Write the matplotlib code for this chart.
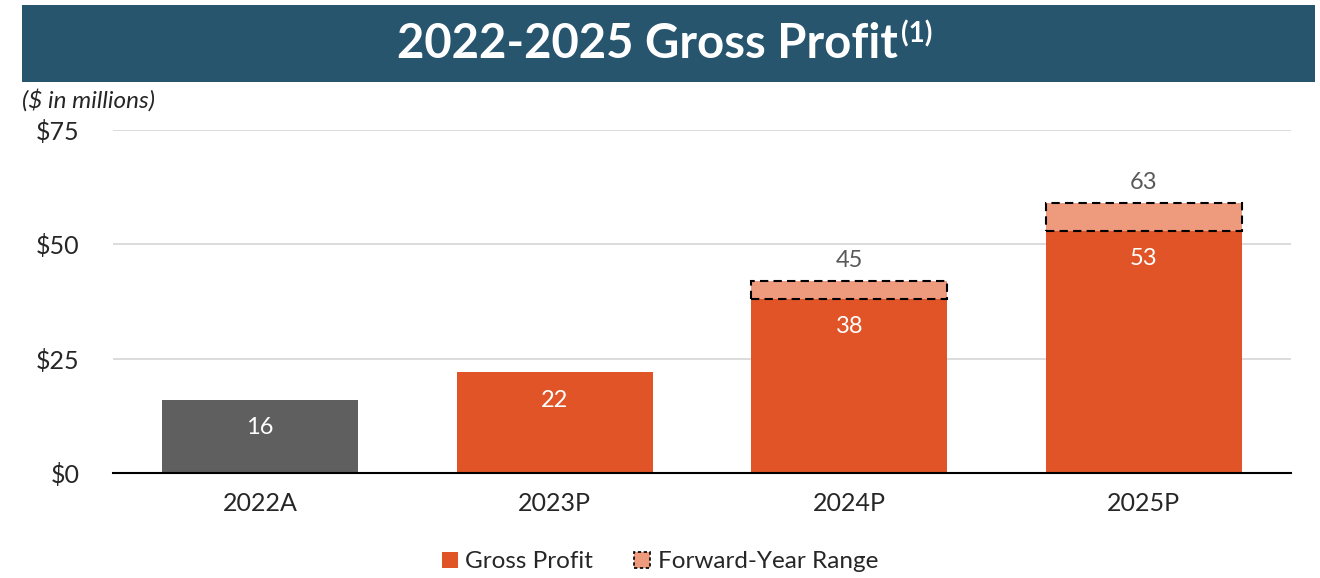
import matplotlib.pyplot as plt
from matplotlib.patches import Patch, Rectangle

# --- data ---
years = ["2022A", "2023P", "2024P", "2025P"]
gross_profit = [16, 22, 38, 53]
range_top = [None, None, 42, 59]        # drawn height of dashed range box
range_labels = [None, None, "45", "63"]  # printed value above the box
y_ticks = [0, 25, 50, 75]

GRAY = "#5F5F5F"
ORANGE = "#E05427"
LIGHT = "#EE9A7D"
HEADER = "#28556E"
TXT = "#262626"

plt.rcParams['font.family'] = ['Lato', 'DejaVu Sans']

fig = plt.figure(figsize=(13.2, 5.78), dpi=100)
ax = fig.add_axes([113 / 1320, 1 - 473 / 578, 1178 / 1320, 343 / 578])

# --- header band ---
fig.patches.append(Rectangle((22 / 1320, 1 - 82 / 578), 1293 / 1320, 77 / 578,
                             transform=fig.transFigure, facecolor=HEADER,
                             edgecolor="none", zorder=0))
title = fig.text(397 / 1320, 1 - 44 / 578, "2022-2025 Gross Profit", color="white",
                 fontsize=34, fontweight="bold", ha="left", va="center")
fig.canvas.draw()
bb = title.get_window_extent().transformed(fig.transFigure.inverted())
fig.text(bb.x1 + 3 / 1320, bb.y1 + 2 / 578, "(1)", color="white", fontsize=20,
         fontweight="bold", ha="left", va="top")

fig.text(22 / 1320, 1 - 100 / 578, "($ in millions)", fontsize=17.5, style="italic",
         color=TXT, ha="left", va="center")

# --- bars ---
x = list(range(len(years)))
colors = [GRAY] + [ORANGE] * (len(years) - 1)
ax.bar(x, gross_profit, width=0.667, color=colors, zorder=2)

for i, v in enumerate(gross_profit):
    ax.annotate(str(v), xy=(i, v), xytext=(0, -20), textcoords="offset points",
                ha="center", va="center", color="white", fontsize=17)

for i, top in enumerate(range_top):
    if top is None:
        continue
    base = gross_profit[i]
    ax.bar(i, top - base, bottom=base, width=0.667, color=LIGHT, edgecolor="black",
           linestyle=(0, (4, 2.5)), linewidth=1.5, zorder=3)
    ax.annotate(range_labels[i], xy=(i, top), xytext=(0, 7), textcoords="offset points",
                ha="center", va="bottom", color="#595959", fontsize=17)

# --- axes styling ---
ax.set_xlim(-0.5, len(years) - 0.5)
ax.set_ylim(0, 75)
ax.set_yticks(y_ticks)
ax.set_yticklabels([f"${t}" for t in y_ticks])
ax.set_xticks(x)
ax.set_xticklabels(years)
ax.tick_params(axis="both", length=0, labelsize=18, colors=TXT)
ax.tick_params(axis="y", pad=24)
ax.tick_params(axis="x", pad=14)
ax.grid(axis="y", color="#D9D9D9", linewidth=1.3, zorder=0)
ax.set_axisbelow(True)
for side in ["top", "right", "left"]:
    ax.spines[side].set_visible(False)
ax.spines["bottom"].set_color("black")
ax.spines["bottom"].set_linewidth(1.5)
ax.spines["bottom"].set_zorder(4)

# --- legend ---
handles = [Patch(facecolor=ORANGE, edgecolor="none", label="Gross Profit"),
           Patch(facecolor=LIGHT, edgecolor="black", linestyle=(0, (2, 1.5)),
                 linewidth=1.2, label="Forward-Year Range")]
fig.legend(handles=handles, loc="center", bbox_to_anchor=(0.5, 1 - 562 / 578),
           ncol=2, frameon=False, fontsize=17.5, handlelength=0.65, handleheight=0.65,
           handletextpad=0.3, columnspacing=1.7, labelcolor=TXT)

fig.savefig("out.png", dpi=100)
